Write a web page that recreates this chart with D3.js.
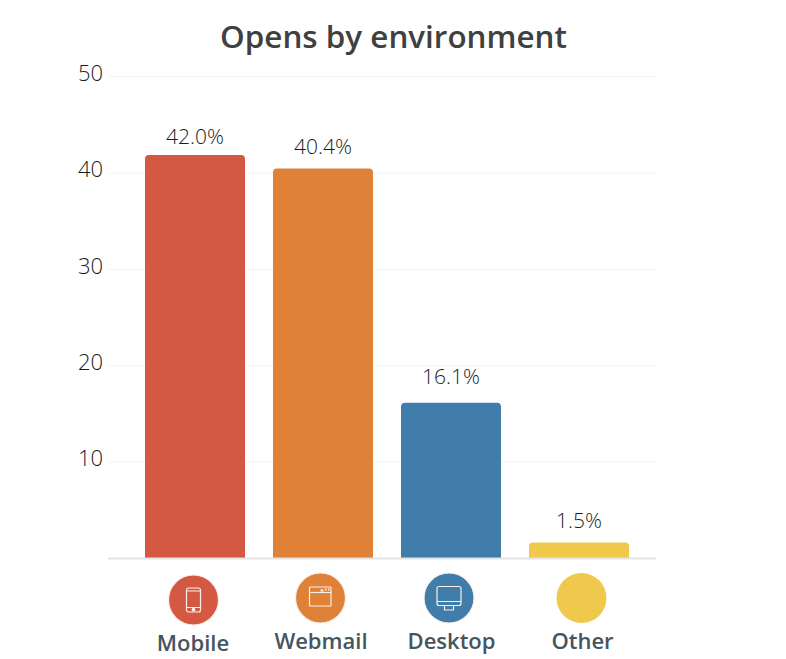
<!DOCTYPE html>
<html><head><meta charset="utf-8">
<script src="https://cdn.jsdelivr.net/npm/d3@7"></script>
<style>html,body{margin:0;padding:0;background:#fff}svg{display:block}text{font-family:"Open Sans",Lato,sans-serif}</style>
</head><body><svg id="c" width="786" height="659"></svg>
<script>
const categories = ["Mobile","Webmail","Desktop","Other"];
const barHeights = [41.8,40.4,16.1,1.6];
const valueLabels = ["42.0%","40.4%","16.1%","1.5%"];
const colors = ["#d45942","#df8136","#417dab","#eec94b"];
const yTicks = [10,20,30,40,50];

// hand-placed offsets of the icon/label row and value labels, as in the reference
const iconDx = [-1.5,-2.5,-2,2.5], iconCy = [600,598,598,598];
const nameDx = [-2,-2,0.5,3.5], nameY = [651,649,649,649];
const labelGap = [11,15,19,15];

const svg = d3.select("#c");
const x = d3.scaleBand().domain(categories).range([131,643]).paddingInner(0.21875).paddingOuter(0.109375);
const y = d3.scaleLinear().domain([0,50]).range([558,76]);

const grid = svg.append("g").attr("transform","translate(108,0)")
  .call(d3.axisLeft(y).tickValues(yTicks).tickSize(0).tickPadding(5).tickFormat(d3.format("d")));
grid.select(".domain").remove();
grid.selectAll(".tick line").attr("x1",0).attr("x2",548).attr("stroke","#f3f3f3");
grid.selectAll(".tick text").attr("x",-5).attr("y",-2).attr("dy","0.29em").attr("fill","#1c1c1c").style("font-size","22px").style("font-weight","300").style("font-family","'Open Sans'");

const radius = 4;
const barPath = (d,i) => {
  const x0=x(categories[i]), w=x.bandwidth(), t=y(d), b=y(0), r=radius;
  return `M${x0},${b}V${t+r}Q${x0},${t} ${x0+r},${t}H${x0+w-r}Q${x0+w},${t} ${x0+w},${t+r}V${b}Z`;
};
svg.append("g").selectAll("path").data(barHeights).join("path").attr("d",barPath).attr("fill",(d,i)=>colors[i]);

svg.append("line").attr("x1",108).attr("x2",656).attr("y1",y(0)+0.5).attr("y2",y(0)+0.5).attr("stroke","#e4e4e4").attr("stroke-width",2);

svg.append("g").selectAll("text").data(barHeights).join("text")
  .attr("x",(d,i)=>x(categories[i])+x.bandwidth()/2)
  .attr("y",(d,i)=>y(d)-labelGap[i])
  .attr("text-anchor","middle").attr("fill","#1c1c1c").style("font-size","21px").style("font-weight","300")
  .text((d,i)=>valueLabels[i]);

svg.append("text").attr("x",393.5).attr("y",48).attr("text-anchor","middle").attr("fill","#404040")
  .style("font-size","31.4px").style("font-weight","600").text("Opens by environment");

const icons = svg.append("g").selectAll("g").data(categories).join("g")
  .attr("transform",(d,i)=>`translate(${x(d)+x.bandwidth()/2+iconDx[i]},${iconCy[i]})`);
icons.append("circle").attr("r",25).attr("fill",(d,i)=>colors[i]);
const st = g => g.attr("fill","none").attr("stroke","#fbeee8").attr("stroke-width",1.2);
const m = icons.filter(d=>d==="Mobile").call(st);
m.append("rect").attr("x",-7).attr("y",-12).attr("width",14).attr("height",24).attr("rx",2);
m.append("path").attr("d","M-7,-9H7M-7,7.5H7");
m.append("circle").attr("r",1.3).attr("cy",9.7).attr("fill","#fbeee8");
const w = icons.filter(d=>d==="Webmail").call(st);
w.append("rect").attr("x",-11).attr("y",-11).attr("width",21.5).attr("height",19).attr("rx",0.5);
w.append("path").attr("d","M-11,-5.5H10.5");
w.append("path").attr("d","M0,-7.5H3M4.5,-8.5H6M7.5,-8.5H9").attr("stroke-width",2);
const dk = icons.filter(d=>d==="Desktop").call(st);
dk.append("rect").attr("x",-12).attr("y",-11.5).attr("width",24).attr("height",19).attr("rx",2);
dk.append("path").attr("d","M-12,3.5H12M-4.5,7.5V12H4.5V7.5");

svg.append("g").selectAll("text").data(categories).join("text")
  .attr("x",(d,i)=>x(d)+x.bandwidth()/2+nameDx[i])
  .attr("y",(d,i)=>nameY[i])
  .attr("text-anchor","middle").attr("fill","#46545e")
  .style("font-size","22px").style("font-weight","600").text(d=>d);
</script></body></html>
